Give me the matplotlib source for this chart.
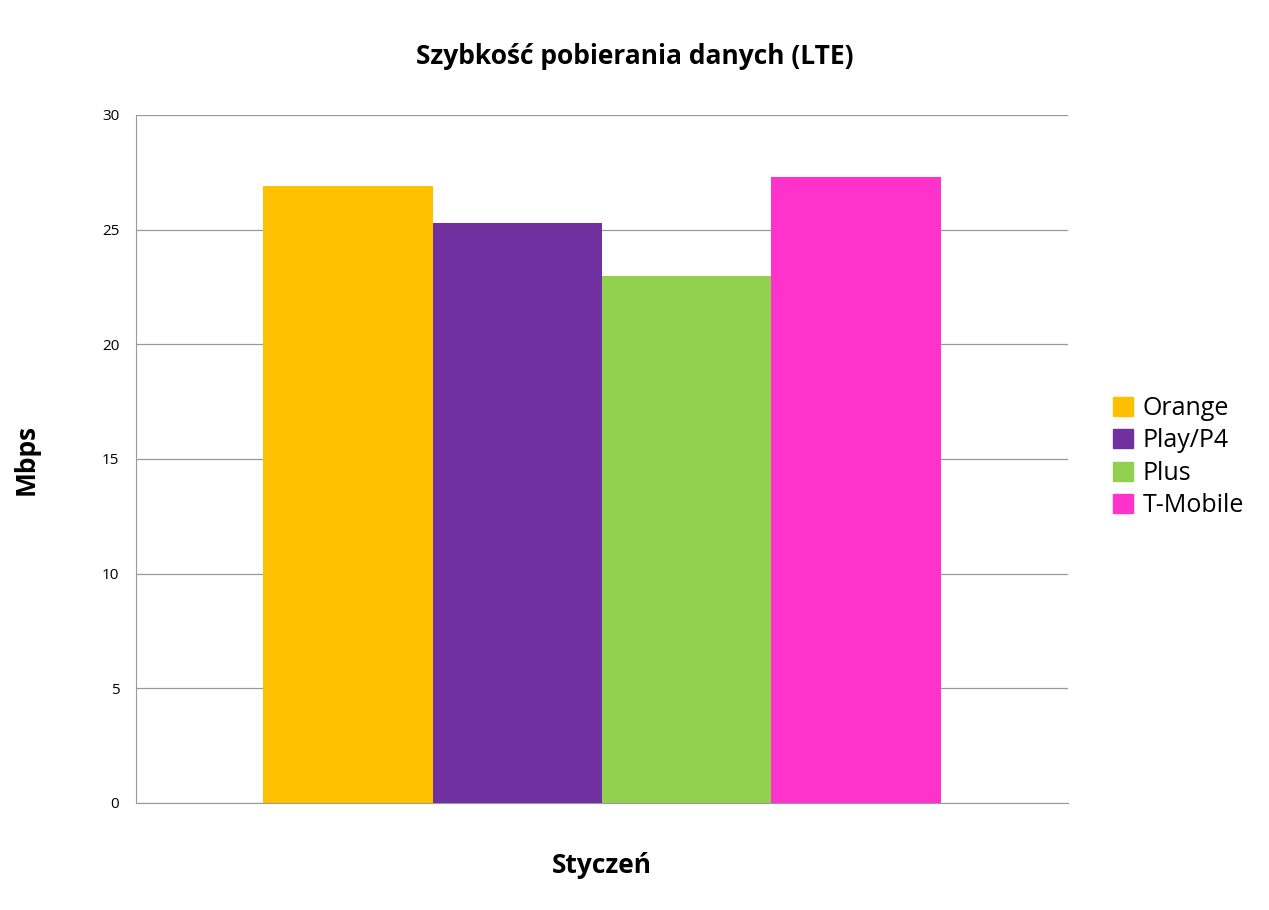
import matplotlib
matplotlib.use("Agg")
import matplotlib.pyplot as plt
from matplotlib.patches import Patch

# ── dane ──────────────────────────────────────────────────────────────
OPERATORS = ["Orange", "Play/P4", "Plus", "T-Mobile"]
SPEEDS    = [26.9, 25.3, 23.0, 27.3]
COLORS    = ["#FFC000", "#7030A0", "#92D050", "#FF33CC"]
CATEGORY  = "Styczeń"

plt.rcParams["font.family"] = ["Open Sans", "DejaVu Sans"]

fig = plt.figure(figsize=(12.69, 9.10), dpi=100)
ax = fig.add_axes([136 / 1269, 1 - 803 / 910, 932 / 1269, 688 / 910])

width = 0.1816
for i, (name, val, col) in enumerate(zip(OPERATORS, SPEEDS, COLORS)):
    ax.bar((i - 1.5) * width, val, width=width, color=col, label=name, zorder=3)

ax.set_xlim(-0.5, 0.5)
ax.set_ylim(0, 30)
ax.set_yticks(range(0, 31, 5))
ax.tick_params(axis="y", length=0, labelsize=11, pad=12)
ax.set_xticks([])
ax.grid(axis="y", color="#999999", linewidth=0.9, zorder=0)
for side in ["top", "right", "left"]:
    ax.spines[side].set_visible(False)
ax.spines["bottom"].set_color("#999999")
ax.spines["left"].set_visible(True)
ax.spines["left"].set_color("#999999")

ax.set_ylabel("Mbps", fontsize=19, fontweight="bold", labelpad=45)
ax.set_xlabel(CATEGORY, fontsize=19, fontweight="bold", labelpad=35)
fig.suptitle("Szybkość pobierania danych (LTE)", fontsize=19, fontweight="bold",
             y=1 - 57 / 910, va="center")

handles = [Patch(color=c, label=n) for n, c in zip(OPERATORS, COLORS)]
fig.legend(handles=handles, loc="center left", bbox_to_anchor=(1090 / 1269, 1 - 457 / 910),
           frameon=False, fontsize=18, handlelength=0.8, handleheight=0.8,
           handletextpad=0.4, labelspacing=0.3)

fig.savefig("out.png", dpi=100)
